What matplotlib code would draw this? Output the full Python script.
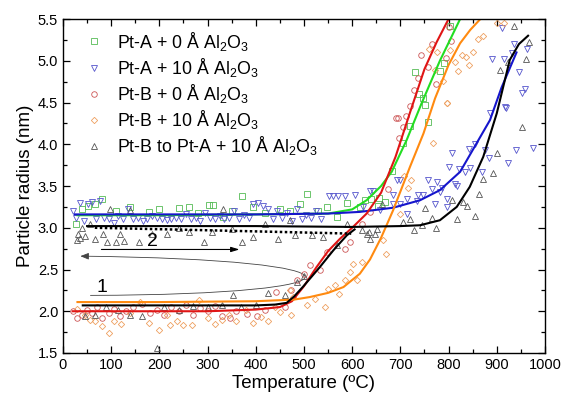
import matplotlib
matplotlib.use("Agg")
import matplotlib.pyplot as plt
from matplotlib.path import Path
from matplotlib.patches import FancyArrowPatch

plt.rcParams['font.family'] = ['Liberation Sans', 'DejaVu Sans']
plt.rcParams['mathtext.default'] = 'regular'

# scatter data (temperature ºC, radius nm)
ptA0_pts = [(26, 3.05), (40, 3.22), (52, 3.26), (67, 3.28), (81, 3.34), (110, 3.2), (140, 3.25),
            (178, 3.19), (200, 3.22), (240, 3.24), (261, 3.25), (280, 3.18), (302, 3.27), (312, 3.27),
            (333, 3.13), (350, 3.2), (371, 3.38), (395, 3.25), (420, 3.18), (450, 3.22), (470, 3.2),
            (492, 3.29), (506, 3.41), (530, 3.2), (547, 3.25), (568, 3.13), (590, 3.3), (616, 3.25),
            (627, 3.33), (640, 3.35), (654, 3.26), (656, 3.36), (668, 3.31), (682, 3.68), (706, 4.02),
            (720, 4.22), (730, 4.86), (739, 4.6), (746, 4.56), (751, 4.47), (758, 4.27), (782, 4.88),
            (791, 4.97), (804, 5.42)]

ptA10_pts = [(20, 3.2), (28, 3.12), (36, 3.3), (44, 3.08), (52, 3.28), (60, 3.31), (68, 3.1),
             (76, 3.32), (85, 3.12), (95, 3.1), (105, 3.06), (115, 3.14), (125, 3.1), (135, 3.22),
             (145, 3.1), (155, 3.12), (165, 3.08), (175, 3.1), (185, 3.14), (195, 3.12), (205, 3.1),
             (215, 3.09), (225, 3.11), (235, 3.12), (245, 3.1), (255, 3.16), (265, 3.1), (275, 3.12),
             (285, 3.08), (295, 3.18), (305, 3.12), (315, 3.1), (325, 3.14), (335, 3.1), (345, 3.12),
             (355, 3.2), (365, 3.1), (375, 3.15), (385, 3.12), (395, 3.28), (405, 3.3), (415, 3.26),
             (425, 3.22), (435, 3.1), (445, 3.2), (455, 3.12), (465, 3.18), (475, 3.08), (485, 3.22),
             (495, 3.1), (505, 3.15), (515, 3.12), (525, 3.2), (535, 3.1), (551, 3.38), (560, 3.38),
             (570, 3.38), (586, 3.38), (606, 3.39), (623, 3.25), (637, 3.44), (644, 3.44), (658, 3.21),
             (685, 3.39), (685, 3.28), (692, 3.57), (699, 3.57), (699, 3.29), (713, 3.34), (713, 3.17),
             (734, 3.32), (737, 3.39), (748, 3.39), (758, 3.57), (765, 3.47), (772, 3.28), (775, 3.55),
             (782, 3.43), (786, 3.48), (796, 3.35), (796, 3.25), (800, 3.73), (807, 3.9), (813, 3.53),
             (817, 3.5), (821, 3.7), (835, 3.67), (842, 3.94), (844, 3.72), (855, 4.0), (869, 3.67),
             (875, 3.93), (884, 3.84), (886, 4.37), (891, 5.02), (911, 5.39), (916, 5.02), (917, 4.45),
             (920, 4.44), (924, 3.78), (931, 5.09), (936, 5.2), (939, 3.93), (947, 4.87), (952, 4.62),
             (959, 4.66), (962, 5.14), (976, 3.96)]

ptB0_pts = [(20, 2.0), (30, 1.92), (39, 1.95), (50, 2.02), (60, 1.98), (70, 2.05), (81, 1.92),
            (95, 1.98), (105, 2.03), (119, 1.94), (130, 2.0), (145, 2.05), (164, 2.09), (180, 1.98),
            (195, 2.02), (210, 1.96), (225, 2.05), (240, 2.0), (255, 2.08), (270, 1.95), (285, 2.04),
            (300, 2.0), (315, 2.06), (329, 1.94), (346, 1.92), (360, 2.0), (381, 1.97), (402, 1.94),
            (420, 2.02), (443, 2.23), (460, 2.05), (474, 2.25), (485, 2.37), (500, 2.45), (512, 2.55),
            (533, 2.49), (547, 2.71), (585, 2.75), (595, 2.83), (620, 3.05), (637, 3.19), (675, 3.47),
            (691, 4.32), (695, 4.31), (698, 4.07), (705, 4.21), (712, 4.34), (721, 4.46), (728, 4.65),
            (737, 4.79), (743, 5.07), (758, 4.93), (765, 5.2), (774, 4.72), (795, 5.03), (801, 5.41),
            (806, 5.24)]

ptB10_pts = [(29, 2.03), (45, 1.95), (55, 1.9), (67, 1.88), (81, 1.82), (95, 1.74), (105, 1.88),
             (120, 1.85), (140, 1.98), (160, 2.11), (178, 1.86), (199, 1.77), (215, 1.95), (223, 1.84),
             (237, 1.88), (250, 1.83), (268, 1.83), (282, 2.13), (300, 1.92), (315, 1.85), (329, 1.9),
             (345, 1.95), (360, 1.88), (380, 2.02), (395, 1.86), (410, 1.93), (426, 1.88), (440, 2.05),
             (450, 1.99), (471, 2.25), (474, 1.95), (478, 2.17), (506, 2.08), (523, 2.15), (544, 2.05),
             (550, 2.27), (564, 2.31), (573, 2.21), (585, 2.37), (595, 2.47), (602, 2.57), (610, 2.37),
             (620, 2.59), (665, 2.85), (670, 2.69), (699, 3.17), (707, 3.62), (716, 3.48), (723, 3.57),
             (760, 5.14), (767, 4.02), (772, 4.89), (775, 5.1), (788, 4.76), (797, 4.49), (797, 4.5),
             (804, 5.13), (813, 4.98), (820, 4.88), (827, 5.07), (836, 5.05), (843, 4.95), (850, 5.1),
             (862, 5.26), (872, 5.3), (900, 5.45), (915, 5.45)]

ptBA_pts = [(29, 2.85), (32, 2.93), (35, 2.88), (40, 3.0), (46, 2.9), (55, 3.05), (67, 2.86),
            (84, 2.93), (91, 2.83), (98, 3.23), (109, 2.83), (119, 2.93), (126, 2.84), (140, 3.21),
            (157, 2.83), (185, 2.93), (216, 2.92), (240, 3.0), (261, 2.95), (292, 2.83), (310, 2.95),
            (333, 3.22), (350, 2.98), (371, 2.83), (395, 2.89), (419, 3.05), (447, 2.87), (471, 3.09),
            (481, 2.91), (516, 2.91), (540, 2.89), (568, 2.79), (589, 3.05), (620, 2.97), (630, 2.93),
            (634, 2.95), (637, 2.87), (647, 2.93), (651, 2.99), (661, 3.29), (706, 3.07), (720, 3.11),
            (728, 2.97), (744, 3.03), (751, 3.24), (765, 3.12), (774, 3.0), (808, 3.33), (817, 3.1),
            (831, 3.31), (839, 3.26), (855, 3.14), (863, 3.4), (871, 3.58), (893, 3.65), (900, 3.89),
            (907, 4.89), (923, 4.99), (936, 5.42), (952, 4.21), (960, 5.02), (967, 5.23),
            (45, 1.94), (67, 1.95), (90, 2.05), (115, 2.02), (140, 1.95), (164, 1.94), (195, 1.56),
            (210, 2.05), (240, 2.02), (270, 2.06), (300, 2.05), (330, 2.08), (352, 2.2), (370, 2.05),
            (400, 2.07), (425, 2.22), (461, 2.19), (485, 2.35), (500, 2.42)]

# fitted curves
ptA0_fit_T = [30, 200, 400, 550, 600, 630, 660, 682, 713, 744, 782, 824]
ptA0_fit_r = [3.15, 3.15, 3.16, 3.17, 3.22, 3.33, 3.5, 3.67, 4.05, 4.49, 5.0, 5.5]
ptA10_fit_T = [25, 200, 400, 550, 616, 685, 741, 782, 824, 858, 886, 910, 941]
ptA10_fit_r = [3.16, 3.16, 3.16, 3.17, 3.19, 3.24, 3.33, 3.45, 3.67, 4.01, 4.29, 4.68, 5.1]
ptB0_fit_T = [20, 300, 400, 450, 475, 500, 525, 550, 575, 600, 630, 660, 690, 720, 750, 775, 800]
ptB0_fit_r = [2.0, 2.0, 2.02, 2.05, 2.12, 2.3, 2.52, 2.72, 2.87, 3.0, 3.17, 3.42, 3.85, 4.38, 4.9, 5.22, 5.5]
ptB10_fit_T = [30, 200, 400, 480, 512, 550, 582, 616, 637, 660, 685, 720, 748, 772, 800, 824, 845, 866]
ptB10_fit_r = [2.11, 2.11, 2.12, 2.14, 2.17, 2.22, 2.29, 2.45, 2.62, 2.88, 3.21, 3.73, 4.13, 4.55, 4.95, 5.21, 5.37, 5.5]
ptBA_heat_T = [41, 100, 200, 300, 400, 440, 464, 480, 499, 533, 561, 589, 605]
ptBA_heat_r = [2.07, 2.07, 2.07, 2.07, 2.07, 2.08, 2.1, 2.18, 2.3, 2.53, 2.73, 2.91, 2.98]
ptBA_fit_T = [50, 200, 400, 600, 700, 741, 782, 817, 844, 872, 900, 927, 946, 965]
ptBA_fit_r = [3.02, 3.02, 3.02, 3.01, 3.02, 3.03, 3.09, 3.25, 3.49, 3.85, 4.37, 5.01, 5.2, 5.3]
dotted_T = [66, 300, 598]
dotted_r = [3.0, 2.97, 2.93]

labels = ['Pt-A + 0 Å Al$_2$O$_3$', 'Pt-A + 10 Å Al$_2$O$_3$', 'Pt-B + 0 Å Al$_2$O$_3$',
          'Pt-B + 10 Å Al$_2$O$_3$', 'Pt-B to Pt-A + 10 Å Al$_2$O$_3$']

fig = plt.figure(figsize=(5.65, 3.99), dpi=100)
ax = fig.add_axes([0.1115, 0.1153, 0.853, 0.837])

series = [(ptA0_pts, 's', '#55bb55'), (ptA10_pts, 'v', '#5555cc'), (ptB0_pts, 'o', '#cc5555'),
          (ptB10_pts, 'D', '#eea060'), (ptBA_pts, '^', '#555555')]
for (pts, mk, col), lab in zip(series, labels):
    xs = [p[0] for p in pts]
    ys = [p[1] for p in pts]
    ms = 3.2 if mk == 'D' else 4
    ax.plot(xs, ys, ls='none', marker=mk, ms=ms, mfc='none', mec=col, mew=0.6, label=lab)

ax.plot(ptA0_fit_T, ptA0_fit_r, color='#22dd22', lw=1.5)
ax.plot(ptA10_fit_T, ptA10_fit_r, color='#1515cc', lw=1.5)
ax.plot(ptB0_fit_T, ptB0_fit_r, color='#e01515', lw=1.5)
ax.plot(ptB10_fit_T, ptB10_fit_r, color='#ff8a10', lw=1.5)
ax.plot(ptBA_heat_T, ptBA_heat_r, color='black', lw=1.5)
ax.plot(ptBA_fit_T, ptBA_fit_r, color='black', lw=1.5)
ax.plot(dotted_T, dotted_r, color='black', lw=1.8, ls=(0, (1, 1)))

# annotation "1": thin loop with arrowhead
loop = Path([(57, 2.19), (654, 2.2), (654, 2.62), (36, 2.66)],
            [Path.MOVETO, Path.CURVE4, Path.CURVE4, Path.CURVE4])
ax.add_patch(FancyArrowPatch(path=loop, arrowstyle='-|>,head_length=5,head_width=2',
                             color='#444444', lw=0.6))
ax.text(80, 2.28, '1', fontsize=14, ha='center', va='center')
# annotation "2"
ax.annotate('', xy=(372, 2.74), xytext=(74, 2.74),
            arrowprops=dict(arrowstyle='-|>,head_length=0.5,head_width=0.15', color='black', lw=0.8))
ax.text(185, 2.83, '2', fontsize=14, ha='center', va='center')

ax.set_xlim(0, 1000)
ax.set_ylim(1.5, 5.5)
ax.set_xticks(range(0, 1001, 100))
ax.set_xticks(range(50, 1000, 100), minor=True)
ax.set_yticks([1.5, 2.0, 2.5, 3.0, 3.5, 4.0, 4.5, 5.0, 5.5])
ax.set_yticks([1.75, 2.25, 2.75, 3.25, 3.75, 4.25, 4.75, 5.25], minor=True)
ax.tick_params(which='both', direction='in', top=True, right=True, labelsize=10.5, width=0.9)
ax.tick_params(which='major', length=5)
ax.tick_params(which='minor', length=3)
for s in ax.spines.values():
    s.set_linewidth(1.0)
ax.set_xlabel('Temperature (ºC)', fontsize=13.5, labelpad=2)
ax.set_ylabel('Particle radius (nm)', fontsize=13.5, labelpad=3)

ax.legend(loc='upper left', frameon=False, fontsize=12.8, handlelength=1.2, handletextpad=0.7,
          labelspacing=0.18, borderaxespad=0.2, bbox_to_anchor=(0.02, 1.0))

fig.savefig('out.png', dpi=100)
